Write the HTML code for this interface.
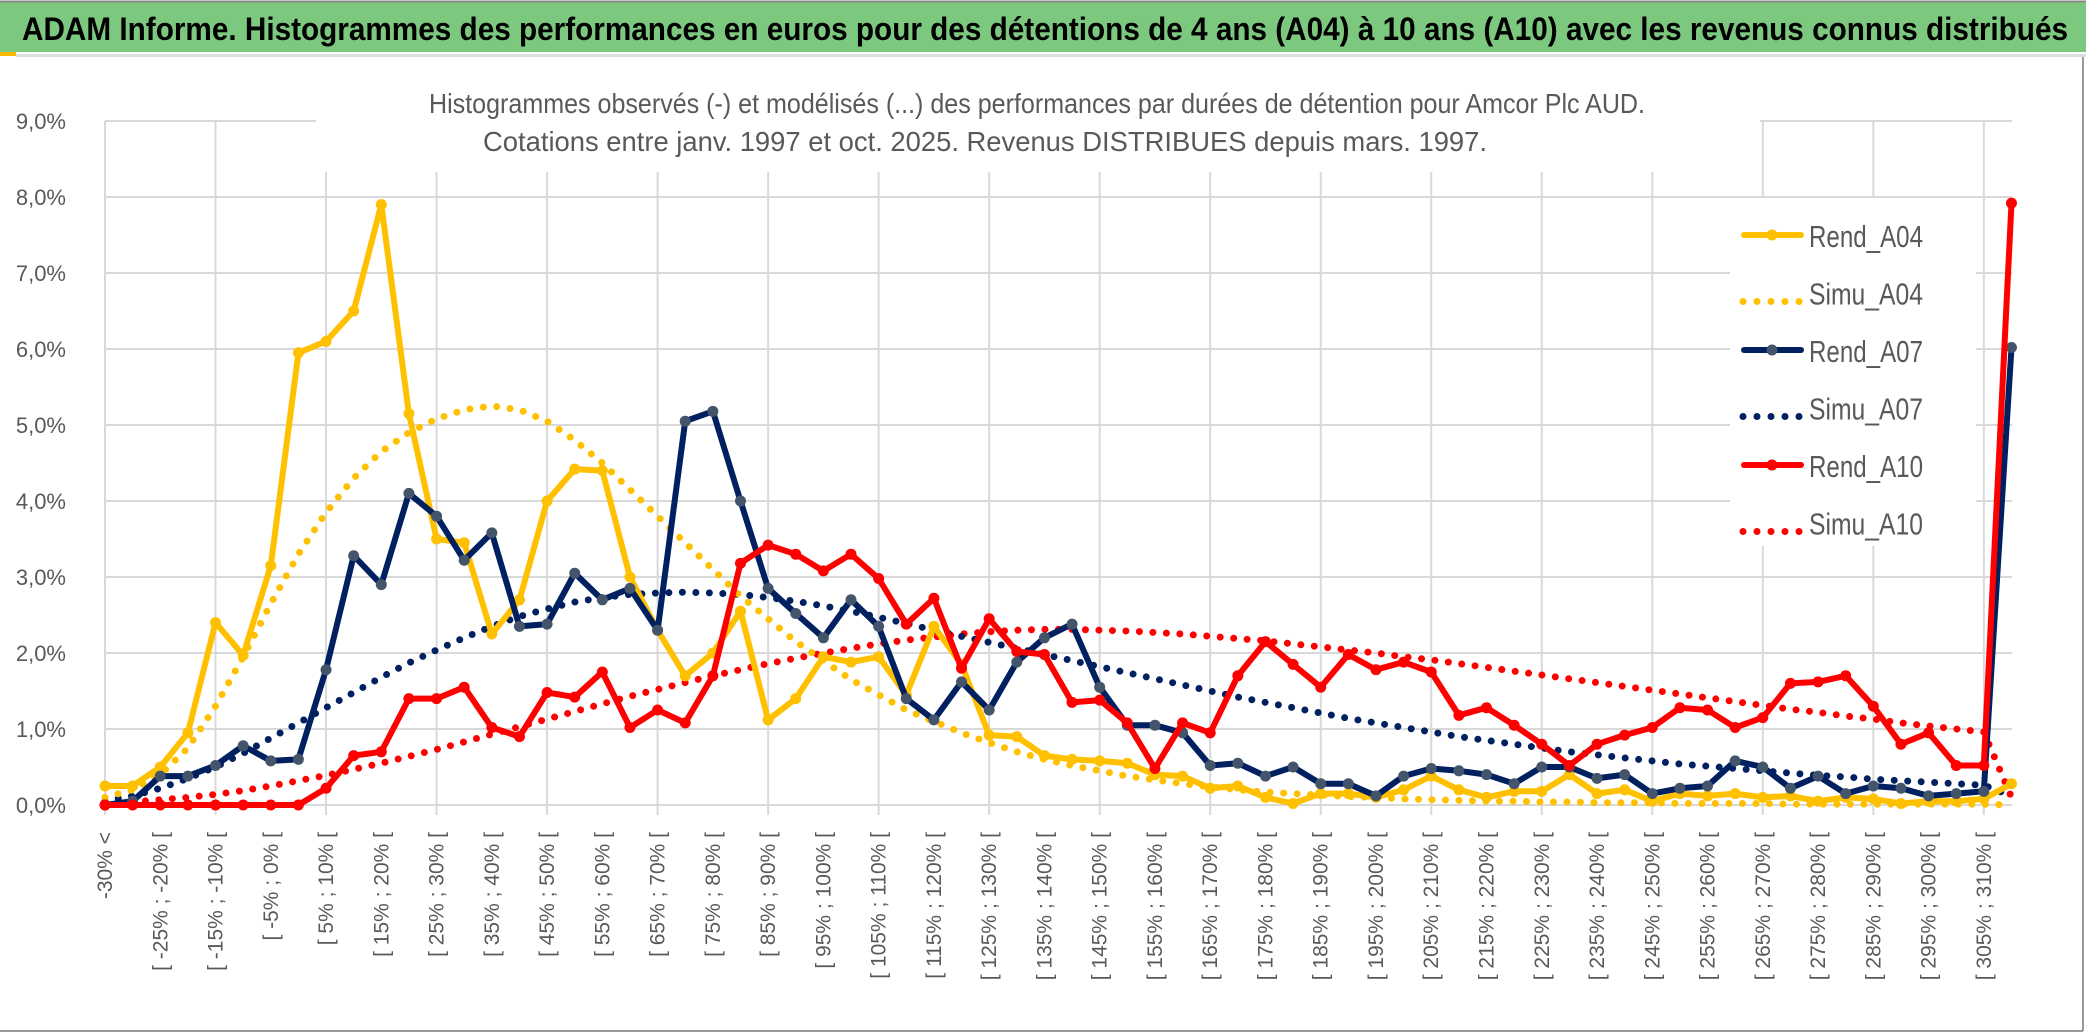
<!DOCTYPE html>
<html><head><meta charset="utf-8"><style>
html,body{margin:0;padding:0;background:#fff;}
svg{display:block;font-family:"Liberation Sans",sans-serif;}
</style></head><body>
<svg id="chart" width="2086" height="1033" viewBox="0 0 2086 1033" xmlns="http://www.w3.org/2000/svg">
<rect x="0" y="0" width="2086" height="1033" fill="#fff"/>
<rect x="0" y="2" width="2086" height="50" fill="#7DC87F"/>
<line x1="0" y1="1.5" x2="2086" y2="1.5" stroke="#888" stroke-width="2"/>
<rect x="0" y="52" width="16" height="4" fill="#F5B800"/>
<rect x="16" y="54" width="2070" height="3" fill="#ddd"/>
<text x="22" y="40" font-size="32" font-weight="bold" fill="#000" textLength="2046" lengthAdjust="spacingAndGlyphs">ADAM Informe. Histogrammes des performances en euros pour des détentions de 4 ans (A04) à 10 ans (A10) avec les revenus connus distribués</text>
<line x1="2083" y1="57" x2="2083" y2="1031" stroke="#999" stroke-width="2"/>
<line x1="0" y1="1031" x2="2083" y2="1031" stroke="#999" stroke-width="2"/>
<g id="grid"></g>
<rect x="316" y="60" width="1444" height="112" fill="#fff"/>
<text x="1037" y="113" font-size="28" fill="#595959" text-anchor="middle" textLength="1216" lengthAdjust="spacingAndGlyphs">Histogrammes observés (-) et modélisés (...) des performances par durées de détention pour Amcor Plc AUD.</text>
<text x="985" y="151" font-size="28" fill="#595959" text-anchor="middle" textLength="1004" lengthAdjust="spacingAndGlyphs">Cotations entre janv. 1997 et oct. 2025. Revenus DISTRIBUES depuis mars. 1997.</text>
<g id="yaxis"></g>
<g id="xaxis"></g>
<rect x="1730" y="198" width="246" height="348" fill="#fff"/>
<g id="series"></g>
<g id="legend"></g>
</svg>
<script>
const categories = ["-30% <","[ -30% ; -25% [","[ -25% ; -20% [","[ -20% ; -15% [","[ -15% ; -10% [","[ -10% ; -5% [","[ -5% ; 0% [","[ 0% ; 5% [","[ 5% ; 10% [","[ 10% ; 15% [",
"[ 15% ; 20% [","[ 20% ; 25% [","[ 25% ; 30% [","[ 30% ; 35% [","[ 35% ; 40% [","[ 40% ; 45% [","[ 45% ; 50% [","[ 50% ; 55% [","[ 55% ; 60% [","[ 60% ; 65% [",
"[ 65% ; 70% [","[ 70% ; 75% [","[ 75% ; 80% [","[ 80% ; 85% [","[ 85% ; 90% [","[ 90% ; 95% [","[ 95% ; 100% [","[ 100% ; 105% [","[ 105% ; 110% [","[ 110% ; 115% [",
"[ 115% ; 120% [","[ 120% ; 125% [","[ 125% ; 130% [","[ 130% ; 135% [","[ 135% ; 140% [","[ 140% ; 145% [","[ 145% ; 150% [","[ 150% ; 155% [","[ 155% ; 160% [","[ 160% ; 165% [",
"[ 165% ; 170% [","[ 170% ; 175% [","[ 175% ; 180% [","[ 180% ; 185% [","[ 185% ; 190% [","[ 190% ; 195% [","[ 195% ; 200% [","[ 200% ; 205% [","[ 205% ; 210% [","[ 210% ; 215% [",
"[ 215% ; 220% [","[ 220% ; 225% [","[ 225% ; 230% [","[ 230% ; 235% [","[ 235% ; 240% [","[ 240% ; 245% [","[ 245% ; 250% [","[ 250% ; 255% [","[ 255% ; 260% [","[ 260% ; 265% [",
"[ 265% ; 270% [","[ 270% ; 275% [","[ 275% ; 280% [","[ 280% ; 285% [","[ 285% ; 290% [","[ 290% ; 295% [","[ 295% ; 300% [","[ 300% ; 305% [","[ 305% ; 310% [","[ 310% ; 315% ["];
const yTicks = [0,1,2,3,4,5,6,7,8,9];
const yTickLabels = ["0,0%","1,0%","2,0%","3,0%","4,0%","5,0%","6,0%","7,0%","8,0%","9,0%"];
const rendA04 = [0.25,0.25,0.5,0.95,2.4,1.97,3.15,5.95,6.1,6.5,7.9,5.15,3.5,3.45,2.25,2.7,4.0,4.42,4.4,3.0,2.3,1.7,2.0,2.55,1.12,1.4,1.95,1.88,1.95,1.45,2.35,1.85,0.92,0.9,0.65,0.6,0.58,0.55,0.4,0.38,0.22,0.25,0.1,0.02,0.15,0.15,0.1,0.2,0.38,0.2,0.1,0.18,0.18,0.4,0.15,0.2,0.05,0.15,0.12,0.15,0.1,0.12,0.05,0.1,0.08,0.02,0.05,0.05,0.08,0.28];
const simuA04 = [0.1,0.2,0.4,0.75,1.3,1.95,2.65,3.3,3.85,4.3,4.65,4.9,5.08,5.2,5.25,5.2,5.05,4.8,4.5,4.15,3.8,3.45,3.1,2.75,2.45,2.15,1.9,1.65,1.45,1.25,1.1,0.95,0.82,0.7,0.6,0.52,0.45,0.38,0.33,0.28,0.24,0.2,0.17,0.15,0.13,0.11,0.1,0.08,0.07,0.06,0.05,0.05,0.04,0.04,0.03,0.03,0.03,0.02,0.02,0.02,0.02,0.01,0.01,0.01,0.01,0.01,0.01,0.01,0.01,0.0];
const rendA07 = [0.0,0.05,0.38,0.38,0.52,0.78,0.58,0.6,1.78,3.28,2.9,4.1,3.8,3.22,3.58,2.35,2.38,3.05,2.7,2.85,2.3,5.05,5.18,4.0,2.85,2.52,2.2,2.7,2.35,1.4,1.12,1.62,1.25,1.88,2.2,2.38,1.55,1.05,1.05,0.95,0.52,0.55,0.38,0.5,0.28,0.28,0.12,0.38,0.48,0.45,0.4,0.28,0.5,0.5,0.35,0.4,0.15,0.22,0.25,0.58,0.5,0.22,0.38,0.15,0.25,0.22,0.12,0.15,0.18,6.02];
const simuA07 = [0.05,0.12,0.22,0.35,0.5,0.68,0.88,1.08,1.28,1.48,1.68,1.87,2.04,2.2,2.35,2.48,2.58,2.67,2.73,2.77,2.79,2.8,2.79,2.77,2.73,2.68,2.62,2.55,2.47,2.39,2.3,2.22,2.14,2.06,1.98,1.9,1.82,1.74,1.66,1.58,1.5,1.42,1.35,1.28,1.21,1.14,1.08,1.02,0.96,0.9,0.85,0.8,0.75,0.7,0.66,0.62,0.58,0.54,0.51,0.48,0.45,0.42,0.39,0.37,0.34,0.32,0.3,0.28,0.26,0.12];
const rendA10 = [0,0,0,0,0,0,0,0,0.22,0.65,0.7,1.4,1.4,1.55,1.02,0.9,1.48,1.42,1.75,1.02,1.25,1.08,1.7,3.18,3.42,3.3,3.08,3.3,2.98,2.38,2.72,1.8,2.45,2.02,1.98,1.35,1.38,1.08,0.48,1.08,0.95,1.7,2.15,1.85,1.55,1.98,1.78,1.88,1.75,1.18,1.28,1.05,0.8,0.52,0.8,0.92,1.02,1.28,1.25,1.02,1.15,1.6,1.62,1.7,1.3,0.8,0.95,0.52,0.52,7.92];
const simuA10 = [0.02,0.04,0.07,0.1,0.14,0.19,0.25,0.32,0.39,0.47,0.55,0.64,0.73,0.83,0.93,1.03,1.13,1.23,1.33,1.43,1.52,1.61,1.7,1.78,1.86,1.93,2.0,2.06,2.12,2.17,2.21,2.25,2.28,2.3,2.31,2.31,2.3,2.29,2.27,2.25,2.22,2.19,2.16,2.12,2.08,2.04,2.0,1.95,1.91,1.86,1.81,1.76,1.71,1.66,1.61,1.56,1.51,1.46,1.41,1.36,1.31,1.26,1.22,1.17,1.13,1.08,1.04,1.0,0.96,0.1];

const NS = "http://www.w3.org/2000/svg";
const X0 = 105, DX = 27.63, Y0 = 805, DY = 76, XR = 2012;
function xPos(i){ return X0 + i*DX; }
function yPos(v){ return Y0 - v*DY; }
function mk(tag, attrs, parent){ const e=document.createElementNS(NS,tag); for(const k in attrs) e.setAttribute(k,attrs[k]); parent.appendChild(e); return e; }

const grid = document.getElementById('grid');
yTicks.forEach(t=>{
  const l = mk('line',{x1:X0,x2:XR,y1:yPos(t),y2:yPos(t),stroke:'#d9d9d9','stroke-width':2},grid);
  
  
});
for(let i=0;i<categories.length;i+=4){
  const l = mk('line',{x1:xPos(i),x2:xPos(i),y1:yPos(9),y2:Y0+10,stroke:'#d9d9d9','stroke-width':2},grid);
  
  
}
const yax = document.getElementById('yaxis');
yTicks.forEach((t,k)=>{
  const tx = mk('text',{x:66,y:yPos(t)+8,'font-size':22,fill:'#595959','text-anchor':'end'},yax);
  tx.textContent = yTickLabels[k];
  
  
});
const xax = document.getElementById('xaxis');
categories.forEach((c,i)=>{
  if(i%2!==0) return;
  const x = xPos(i)+7, y = 832;
  const tx = mk('text',{x:x,y:y,'font-size':21,fill:'#595959','text-anchor':'end',transform:`rotate(-90 ${x} ${y})`},xax);
  tx.textContent = c;
  
  
});

const series = document.getElementById('series');
function pts(arr){ return arr.map((v,i)=>xPos(i).toFixed(1)+','+yPos(v).toFixed(1)).join(' '); }
function dotted(arr,color,name){
  const p = mk('polyline',{points:pts(arr),fill:'none',stroke:color,'stroke-width':7,'stroke-linecap':'round','stroke-dasharray':'0 13.5'},series);
  
  
}
function solid(arr,color,mcolor,name){
  const g = mk('g',{},series);
  
  
  mk('polyline',{points:pts(arr),fill:'none',stroke:color,'stroke-width':6,'stroke-linejoin':'round'},g);
  arr.forEach((v,i)=>{
    const c = mk('circle',{cx:xPos(i),cy:yPos(v),r:5.5,fill:mcolor},g);
    
    
  });
}
dotted(simuA10,'#FF0000','simu-a10-line');
dotted(simuA07,'#002060','simu-a07-line');
dotted(simuA04,'#FFC000','simu-a04-line');
solid(rendA04,'#FFC000','#FFC000','rend-a04-line');
solid(rendA07,'#002060','#44546A','rend-a07-line');
solid(rendA10,'#FF0000','#FF0000','rend-a10-line');

const legend = document.getElementById('legend');
const legNames = ["Rend_A04","Simu_A04","Rend_A07","Simu_A07","Rend_A10","Simu_A10"];
const legColors = ['#FFC000','#FFC000','#002060','#002060','#FF0000','#FF0000'];
const legMarker = ['#FFC000',null,'#44546A',null,'#FF0000',null];
legNames.forEach((n,k)=>{
  const y = 235 + k*57.5;
  const g = mk('g',{},legend);
  
  
  if(legMarker[k]){
    mk('line',{x1:1744,x2:1801,y1:y,y2:y,stroke:legColors[k],'stroke-width':6,'stroke-linecap':'round'},g);
    mk('circle',{cx:1772,cy:y,r:5.5,fill:legMarker[k]},g);
  } else {
    mk('line',{x1:1743,x2:1801,y1:y+9,y2:y+9,stroke:legColors[k],'stroke-width':7,'stroke-linecap':'round','stroke-dasharray':'0 14'},g);
  }
  const t = mk('text',{x:1809,y:y+12,'font-size':31,fill:'#595959',textLength:114,lengthAdjust:'spacingAndGlyphs'},g);
  t.textContent = n;
});
</script>
</body></html>
